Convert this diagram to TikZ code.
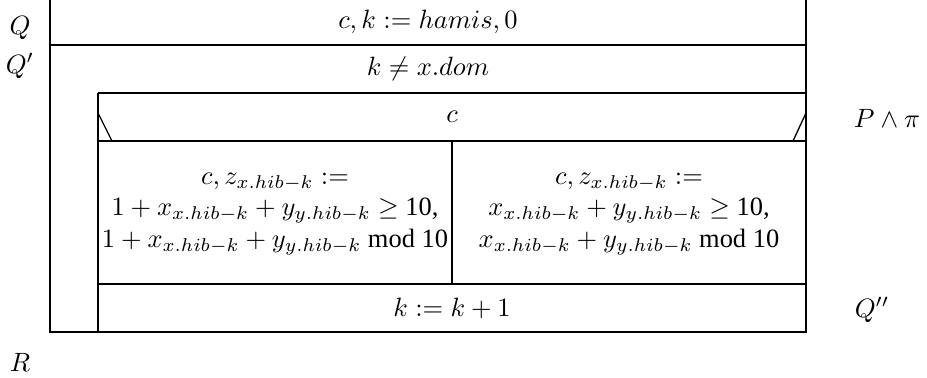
\documentclass[tikz,border=0pt]{standalone}
\usepackage{amsmath,amssymb}
\usepackage{fontspec}
\setmainfont{Liberation Serif}
\usepackage{tikz}

\begin{document}
\begin{tikzpicture}[
  x=0.378pt,y=-0.378pt,
  cell/.style={inner sep=0pt,align=center},
  lbl/.style={inner sep=0pt},
  frame/.style={line width=0.5pt}
]
\useasboundingbox (0,0) rectangle (927,378);

% structogram frame
\draw[frame] (50,0) -- (50,332) -- (806,332) -- (806,0);
\draw[frame] (50,45) -- (806,45);
\draw[frame] (98,93) -- (806,93);
\draw[frame] (98,93) -- (98,332);
\draw[frame] (98,141) -- (806,141);
\draw[frame] (98,113) -- (112,141);
\draw[frame] (806,113) -- (793,141);
\draw[frame] (452,141) -- (452,284);
\draw[frame] (98,284) -- (806,284);

\node[cell] (init) at (428,22) {$c,k := hamis,0$};
\node[cell] (loop) at (428,69) {$k \neq x.dom$};
\node[cell] (sel) at (452,117) {$c$};
\node[cell] (yes) at (275,214) {$c,z_{x.hib-k} :=$\\
  $1+x_{x.hib-k}+y_{y.hib-k}\geq$ 10,\\
  $1+x_{x.hib-k}+y_{y.hib-k}$ mod 10};
\node[cell] (no) at (629,214) {$c,z_{x.hib-k} :=$\\
  $x_{x.hib-k}+y_{y.hib-k}\geq$ 10,\\
  $x_{x.hib-k}+y_{y.hib-k}$ mod 10};
\node[cell] (step) at (452,308) {$k := k+1$};

\node[lbl] (q) at (20,28) {$Q$};
\node[lbl] (q1) at (20,66) {$Q'$};
\node[lbl] (inv) at (887,118) {$P \wedge \pi$};
\node[lbl] (q2) at (872,310) {$Q''$};
\node[lbl] (post) at (20,362) {$R$};

\end{tikzpicture}
\end{document}
